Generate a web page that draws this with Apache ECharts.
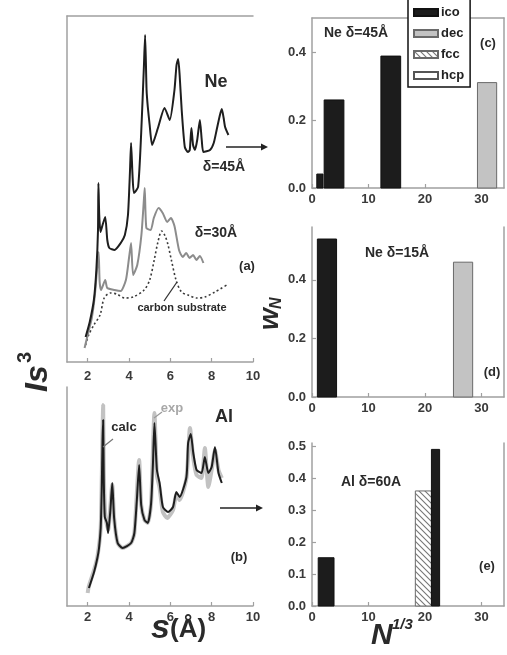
<!DOCTYPE html>
<html>
<head>
<meta charset="utf-8">
<script src="https://cdn.jsdelivr.net/npm/echarts@6/dist/echarts.min.js"></script>
<style>
html,body{margin:0;padding:0;background:#ffffff;}
#chart{width:507px;height:655px;}
</style>
</head>
<body>
<div id="chart"></div>
<script>
// ---------- Panel (a): Ne diffraction Is^3 vs s (arbitrary units) ----------
const ne45S = [1.90,2.10,2.30,2.42,2.50,2.52,2.56,2.62,2.72,2.85,2.95,3.05,3.3,3.6,3.8,3.95,4.05,4.10,4.17,4.24,4.44,4.59,4.72,4.78,4.85,4.91,5.0,5.12,5.4,5.72,5.97,6.2,6.30,6.38,6.45,6.55,6.70,6.85,6.94,7.02,7.10,7.19,7.30,7.43,7.52,7.60,7.92,8.10,8.24,8.40,8.49,8.58,8.65,8.81];
const ne45I = [25,40,62,92,132,179,147,130,137,145,122,114,112,119,127,147,192,219,187,169,175,229,295,327,272,255,237,217,234,254,242,272,297,303,287,252,215,210,212,234,217,212,222,242,222,210,212,219,232,247,253,244,235,227];

const ne30S = [1.85,2.0,2.2,2.35,2.45,2.53,2.58,2.65,2.85,2.95,3.3,3.6,3.85,4.0,4.10,4.2,4.40,4.60,4.72,4.76,4.84,5.05,5.2,5.43,5.63,5.85,6.03,6.2,6.42,6.60,6.77,6.93,7.10,7.26,7.43,7.60];
const ne30I = [14,27,44,67,92,110,80,72,82,74,72,71,82,104,119,87,97,127,162,174,134,132,144,154,149,140,144,136,112,105,109,104,107,102,106,99];

const carbonS = [1.9,2.05,2.3,2.6,2.8,3.1,3.4,3.8,4.2,4.73,5.0,5.22,5.4,5.58,5.75,5.89,6.05,6.29,6.54,6.86,7.27,7.67,8.16,8.73];
const carbonI = [17,27,37,47,64,69,68,64,65,72,82,102,120,131,126,117,102,81,70,67,64,65,70,77];

// ---------- Panel (b): Al calc / exp ----------
const alCalcS = [2.06,2.31,2.47,2.55,2.63,2.68,2.72,2.75,2.78,2.83,2.93,2.99,3.10,3.19,3.28,3.45,3.69,4.10,4.26,4.38,4.49,4.59,4.75,4.91,5.07,5.16,5.23,5.35,5.48,5.64,5.89,6.13,6.29,6.45,6.78,6.86,6.99,7.11,7.27,7.51,7.67,7.84,8.00,8.16,8.33,8.49];
const alCalcI = [18,34,48,58,78,116,166,186,126,89,83,73,96,123,88,63,58,63,73,106,141,101,86,83,103,143,183,136,123,99,94,99,114,109,129,163,172,153,136,133,149,133,139,159,133,123];

const alExpS = [2.0,2.06,2.31,2.47,2.63,2.72,2.75,2.78,2.85,2.99,3.19,3.28,3.45,3.69,4.10,4.26,4.49,4.59,4.75,4.91,5.07,5.23,5.35,5.48,5.64,5.85,6.13,6.29,6.45,6.78,6.95,7.11,7.27,7.51,7.67,7.84,8.00,8.16,8.33,8.49];
const alExpI = [13,20,36,49,78,176,201,136,91,76,121,88,63,58,63,73,146,101,86,83,103,193,131,118,94,88,96,111,106,128,178,148,131,128,158,119,136,156,136,128];

// ---------- Panels (c)(d)(e): w_N histograms, [N^1/3 from, N^1/3 to, w_N] ----------
const cIco = [[0.85,1.95,0.041],[2.15,5.65,0.259],[12.2,15.7,0.388]];
const cDec = [[29.3,32.7,0.31]];
const dIco = [[0.95,4.35,0.539]];
const dDec = [[25.05,28.45,0.46]];
const eIco = [[1.1,3.9,0.151],[21.15,22.6,0.49]];
const eFcc = [[18.3,21.15,0.36]];

const sTicks = [2,4,6,8,10];
const nTicks = [0,10,20,30];
const cYTicks = [0,0.2,0.4];
const dYTicks = [0,0.2,0.4];
const eYTicks = [0,0.1,0.2,0.3,0.4,0.5];

const zip = (a,b) => a.map((x,i)=>[x,b[i]]);
const FONT = "'Liberation Sans', Arial, sans-serif";
const AX = '#a0a0a0';
const TXT = '#3a3a3a';

// hatch pattern for fcc
const hatch = document.createElement('canvas');
hatch.width = 6; hatch.height = 6;
(function(){
  const g = hatch.getContext('2d');
  g.fillStyle = '#ffffff'; g.fillRect(0,0,6,6);
  g.strokeStyle = '#777777'; g.lineWidth = 1.1;
  g.beginPath();
  g.moveTo(-1,-1); g.lineTo(7,7);
  g.moveTo(-1,5); g.lineTo(1,7);
  g.moveTo(5,-1); g.lineTo(7,1);
  g.stroke();
})();
const hatchFill = {image: hatch, repeat: 'repeat'};

const chart = echarts.init(document.getElementById('chart'), null, {renderer:'canvas'});

function xAx(grid, min, max, ticks, margin){
  return {type:'value', gridIndex:grid, min, max, position:'bottom',
    axisLine:{show:true, onZero:false, lineStyle:{color:AX, width:1.5}},
    axisTick:{show:true, inside:true, length:4, customValues:ticks, lineStyle:{color:AX, width:1.2}},
    axisLabel:{show:true, customValues:ticks, margin, color:TXT, fontFamily:FONT, fontWeight:'bold', fontSize:13},
    splitLine:{show:false}};
}
function lineAx(grid, pos, min, max){
  return {type:'value', gridIndex:grid, min, max, position:pos,
    axisLine:{show:true, onZero:false, lineStyle:{color:AX, width:1.5}},
    axisTick:{show:false}, axisLabel:{show:false}, splitLine:{show:false}};
}
function yAx(grid, min, max, ticks){
  const o = {type:'value', gridIndex:grid, min, max, position:'left',
    axisLine:{show:true, onZero:false, lineStyle:{color:AX, width:1.5}},
    axisTick:{show:!!ticks, inside:true, length:4, lineStyle:{color:AX, width:1.2}},
    axisLabel:{show:!!ticks, margin:6, color:TXT, fontFamily:FONT, fontWeight:'bold', fontSize:13,
      formatter:(v)=>v.toFixed(1)},
    splitLine:{show:false}};
  if(ticks){ o.axisTick.customValues = ticks; o.axisLabel.customValues = ticks; }
  return o;
}
function bars(name, xi, yi, data, color, border){
  return {type:'custom', name, xAxisIndex:xi, yAxisIndex:yi, data,
    encode:{x:[0,1], y:2},
    itemStyle:{color, borderColor:border, borderWidth:1},
    renderItem:(params, api)=>{
      const a = api.coord([api.value(0), api.value(2)]);
      const b = api.coord([api.value(1), 0]);
      return {type:'rect', shape:{x:a[0], y:a[1], width:b[0]-a[0], height:b[1]-a[1]},
        style:{fill:color, stroke:border, lineWidth:1}};
    }};
}

function t(text, x, y, size, opts){
  opts = opts || {};
  return {type:'text', x, y, z:50, style:{text, fill:opts.fill||'#2a2a2a',
    font:(opts.style||'')+' bold '+size+'px '+FONT, align:opts.align||'center', verticalAlign:'middle',
    textAlign:opts.align||'center', textVerticalAlign:'middle'}};
}
function lt(text, x, y, font){
  return {type:'text', x, y, z:50, style:{text, fill:'#2a2a2a', font:font+' '+FONT,
    align:'left', verticalAlign:'middle', textAlign:'left', textVerticalAlign:'middle'}};
}
function seg(x1,y1,x2,y2,color,w){
  return {type:'line', z:50, shape:{x1,y1,x2,y2}, style:{stroke:color||'#222', lineWidth:w||1.5}};
}
function arrowHead(x,y){
  return {type:'polygon', z:50, shape:{points:[[x,y],[x-7,y-3.5],[x-7,y+3.5]]}, style:{fill:'#222'}};
}

const option = {
  backgroundColor:'#ffffff',
  animation:false,
  grid:[
    {left:67, top:16, width:186, height:346},
    {left:67, top:387, width:186, height:219},
    {left:312, top:18, width:192, height:170},
    {left:312, top:227, width:192, height:170},
    {left:312, top:443, width:192, height:163}
  ],
  xAxis:[
    xAx(0,1,10,sTicks,8),
    lineAx(0,'top',1,10),
    xAx(1,1,10,sTicks,5),
    xAx(2,0,34,nTicks,5),
    lineAx(2,'top',0,34),
    xAx(3,0,34,nTicks,5),
    xAx(4,0,34,nTicks,5)
  ],
  yAxis:[
    yAx(0,0,346,null),
    yAx(1,0,219,null),
    yAx(2,0,0.5,cYTicks),
    lineAx(2,'right',0,0.5),
    yAx(3,0,0.58,dYTicks),
    lineAx(3,'right',0,0.58),
    yAx(4,0,0.51,eYTicks),
    lineAx(4,'right',0,0.51)
  ],
  legend:{
    data:['ico','dec','fcc','hcp'], orient:'vertical', left:408, top:-2,
    icon:'rect', itemWidth:24, itemHeight:7, itemGap:8,
    padding:[8,6,5,5], backgroundColor:'#ffffff', borderColor:'#111', borderWidth:1.5,
    textStyle:{color:'#222', fontFamily:FONT, fontWeight:'bold', fontSize:13, padding:[0,0,0,-2]},
    selectedMode:false
  },
  series:[
    {type:'line', name:'δ=45Å', xAxisIndex:0, yAxisIndex:0, data:zip(ne45S,ne45I), showSymbol:false, smooth:0.2,
      lineStyle:{color:'#1e1e1e', width:2}, z:4},
    {type:'line', name:'δ=30Å', xAxisIndex:0, yAxisIndex:0, data:zip(ne30S,ne30I), showSymbol:false, smooth:0.2,
      lineStyle:{color:'#8c8c8c', width:2}, z:3},
    {type:'line', name:'carbon substrate', xAxisIndex:0, yAxisIndex:0, data:zip(carbonS,carbonI), showSymbol:false, smooth:0.3,
      lineStyle:{color:'#3a3a3a', width:1.6, type:[2,2.5]}, z:2},
    {type:'line', name:'exp', xAxisIndex:2, yAxisIndex:1, data:zip(alExpS,alExpI), showSymbol:false, smooth:0.2,
      lineStyle:{color:'#c2c2c2', width:4}, z:2},
    {type:'line', name:'calc', xAxisIndex:2, yAxisIndex:1, data:zip(alCalcS,alCalcI), showSymbol:false, smooth:0.2,
      lineStyle:{color:'#1e1e1e', width:2}, z:3},
    bars('ico',3,2,cIco,'#1c1c1c','#111'),
    bars('dec',3,2,cDec,'#c3c3c3','#6a6a6a'),
    bars('fcc',3,2,[],hatchFill,'#6a6a6a'),
    bars('hcp',3,2,[],'#ffffff','#555'),
    bars('ico',5,4,dIco,'#1c1c1c','#111'),
    bars('dec',5,4,dDec,'#c3c3c3','#6a6a6a'),
    bars('fcc',6,6,eFcc,hatchFill,'#6a6a6a'),
    bars('ico',6,6,eIco,'#1c1c1c','#111')
  ],
  graphic:[
    t('Ne', 216, 82, 18),
    t('δ=45Å', 224, 167, 14),
    t('δ=30Å', 216, 233, 14),
    t('(a)', 247, 266, 13),
    t('carbon substrate', 182, 308, 11),
    seg(164,301,177,282,'#333',1.3),
    seg(226,147,262,147,'#222',1.5), arrowHead(268,147),
    t('calc', 124, 427, 13),
    seg(103,447,113,439,'#777',1.2),
    t('exp', 172, 408, 13, {fill:'#a8a8a8'}),
    seg(154,418,162,412,'#999',1.2),
    t('Al', 224, 417, 18),
    t('(b)', 239, 557, 13),
    seg(220,508,257,508,'#222',1.5), arrowHead(263,508),
    t('Ne δ=45Å', 356, 33, 14),
    t('(c)', 488, 43, 13),
    t('Ne δ=15Å', 397, 253, 14),
    t('(d)', 492, 372, 13),
    t('Al δ=60A', 371, 482, 14),
    t('(e)', 487, 566, 13),
    {type:'group', x:38, y:392, rotation:Math.PI/2, children:[
      lt('Is', 0, 0, 'italic bold 32px'),
      lt('3', 29, -13, 'bold 20px')
    ]},
    {type:'group', x:270, y:330, rotation:Math.PI/2, children:[
      lt('w', 0, 0, 'italic bold 28px'),
      lt('N', 21, 7, 'italic bold 16px')
    ]},
    lt('N', 371, 636, 'italic bold 30px'),
    lt('1/3', 392, 625, 'italic bold 15px'),
    lt('s', 151, 629, 'italic bold 34px'),
    lt('(Å)', 170, 630, 'bold 26px')
  ]
};
chart.setOption(option);
</script>
</body>
</html>
